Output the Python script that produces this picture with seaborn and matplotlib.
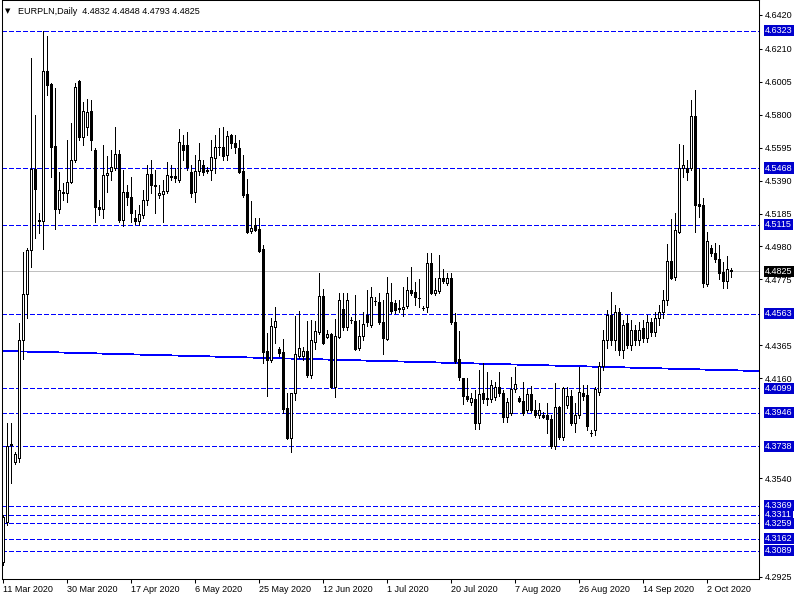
import matplotlib
matplotlib.use("Agg")
import matplotlib.pyplot as plt
import matplotlib.transforms as mtransforms
import numpy as np
import seaborn as sns

# --- DATI (EURPLN daily) ---
opens = [
    4.3017, 4.3266, 4.3745, 4.3639, 4.3664, 4.4398, 4.4684, 4.4958, 4.5462, 4.5145,
    4.5138, 4.6071, 4.5991, 4.5605, 4.5213, 4.5313, 4.5313, 4.5381, 4.5518, 4.6009,
    4.5661, 4.5723, 4.5823, 4.5580, 4.5226, 4.5213, 4.5425, 4.5449, 4.5468, 4.5555,
    4.5145, 4.5319, 4.5288, 4.5157, 4.5138, 4.5176, 4.5269, 4.5431, 4.5362, 4.5300,
    4.5306, 4.5325, 4.5418, 4.5418, 4.5393, 4.5611, 4.5611, 4.5443, 4.5319, 4.5449,
    4.5487, 4.5456, 4.5456, 4.5530, 4.5599, 4.5599, 4.5549, 4.5673, 4.5624, 4.5592,
    4.5449, 4.5306, 4.5076, 4.5113, 4.5089, 4.4964, 4.4330, 4.4274, 4.4479, 4.4342,
    4.4324, 4.3975, 4.3789, 4.4069, 4.4299, 4.4299, 4.4330, 4.4181, 4.4386, 4.4448,
    4.4672, 4.4417, 4.4436, 4.4106, 4.4417, 4.4591, 4.4479, 4.4523, 4.4516, 4.4348,
    4.4423, 4.4554, 4.4492, 4.4641, 4.4635, 4.4510, 4.4404, 4.4635, 4.4628, 4.4597,
    4.4591, 4.4610, 4.4709, 4.4697, 4.4660, 4.4597, 4.4603, 4.4877, 4.4691, 4.4703,
    4.4784, 4.4753, 4.4784, 4.4510, 4.4280, 4.4162, 4.4050, 4.4013, 4.4031, 4.3882,
    4.4069, 4.4037, 4.4031, 4.4044, 4.4106, 4.4069, 4.3919, 4.3944, 4.4093, 4.4037,
    4.4019, 4.3963, 4.4062, 4.3963, 4.3932, 4.3932, 4.3932, 4.3907, 4.3739, 4.3981,
    4.3795, 4.3994, 4.4050, 4.3882, 4.3932, 4.4069, 4.4056, 4.3820, 4.3838, 4.4075,
    4.4236, 4.4398, 4.4554, 4.4398, 4.4572, 4.4336, 4.4504, 4.4367, 4.4460, 4.4398,
    4.4473, 4.4411, 4.4510, 4.4448, 4.4535, 4.4572, 4.4647, 4.4890, 4.4790, 4.5070,
    4.5468, 4.5468, 4.5468, 4.5791, 4.5244, 4.5238, 4.4747, 4.4970, 4.4939, 4.4902,
    4.4821, 4.4765, 4.4832,
]
highs = [
    4.3310, 4.3882, 4.3882, 4.3702, 4.4504, 4.4946, 4.4970, 4.6152, 4.5798, 4.5188,
    4.6320, 4.6289, 4.5995, 4.5966, 4.5443, 4.5375, 4.5642, 4.5748, 4.5997, 4.6015,
    4.5879, 4.5897, 4.5891, 4.5592, 4.5269, 4.5611, 4.5543, 4.5580, 4.5723, 4.5580,
    4.5456, 4.5362, 4.5412, 4.5207, 4.5238, 4.5331, 4.5487, 4.5518, 4.5456, 4.5362,
    4.5393, 4.5505, 4.5487, 4.5468, 4.5711, 4.5673, 4.5692, 4.5487, 4.5549, 4.5624,
    4.5518, 4.5474, 4.5642, 4.5673, 4.5717, 4.5723, 4.5698, 4.5680, 4.5673, 4.5642,
    4.5549, 4.5400, 4.5263, 4.5157, 4.5157, 4.4989, 4.4442, 4.4535, 4.4603, 4.4355,
    4.4404, 4.4069, 4.4069, 4.4548, 4.4579, 4.4355, 4.4516, 4.4523, 4.4516, 4.4815,
    4.4715, 4.4460, 4.4440, 4.4529, 4.4691, 4.4691, 4.4691, 4.4541, 4.4678, 4.4523,
    4.4572, 4.4709, 4.4728, 4.4666, 4.4691, 4.4647, 4.4790, 4.4753, 4.4647, 4.4647,
    4.4728, 4.4790, 4.4852, 4.4759, 4.4778, 4.4610, 4.4939, 4.4939, 4.4784, 4.4927,
    4.4840, 4.4815, 4.4815, 4.4566, 4.4454, 4.4165, 4.4162, 4.4069, 4.4087, 4.4212,
    4.4255, 4.4199, 4.4149, 4.4137, 4.4199, 4.4087, 4.4037, 4.4168, 4.4230, 4.4050,
    4.4137, 4.4093, 4.4112, 4.4025, 4.4006, 4.3950, 4.4006, 4.3932, 4.4131, 4.3985,
    4.4106, 4.4106, 4.4087, 4.4006, 4.4230, 4.4118, 4.4118, 4.3838, 4.4106, 4.4261,
    4.4460, 4.4585, 4.4697, 4.4616, 4.4597, 4.4523, 4.4554, 4.4523, 4.4492, 4.4510,
    4.4523, 4.4554, 4.4535, 4.4572, 4.4616, 4.4709, 4.4995, 4.5151, 4.5188, 4.5617,
    4.5611, 4.5518, 4.5891, 4.5953, 4.5468, 4.5281, 4.5070, 4.4989, 4.5002, 4.4989,
    4.4883, 4.4921, 4.4848,
]
lows = [
    4.2999, 4.3248, 4.3509, 4.3627, 4.3639, 4.4280, 4.4535, 4.4852, 4.5033, 4.5064,
    4.4964, 4.5922, 4.5412, 4.5089, 4.5188, 4.5269, 4.5257, 4.5375, 4.5505, 4.5642,
    4.5611, 4.5673, 4.5580, 4.5132, 4.5176, 4.5157, 4.5319, 4.5393, 4.5456, 4.5132,
    4.5107, 4.5238, 4.5132, 4.5120, 4.5113, 4.5157, 4.5238, 4.5313, 4.5188, 4.5281,
    4.5132, 4.5313, 4.5393, 4.5381, 4.5381, 4.5518, 4.5456, 4.5288, 4.5257, 4.5425,
    4.5425, 4.5437, 4.5393, 4.5437, 4.5549, 4.5518, 4.5518, 4.5592, 4.5561, 4.5437,
    4.5288, 4.5064, 4.5064, 4.5076, 4.4946, 4.4255, 4.4050, 4.4261, 4.4380, 4.4299,
    4.3944, 4.3782, 4.3702, 4.4025, 4.4286, 4.4274, 4.4168, 4.4162, 4.4342, 4.4436,
    4.4375, 4.4411, 4.4100, 4.4044, 4.4411, 4.4460, 4.4460, 4.4504, 4.4336, 4.4336,
    4.4398, 4.4485, 4.4479, 4.4616, 4.4498, 4.4311, 4.4398, 4.4566, 4.4566, 4.4572,
    4.4548, 4.4597, 4.4678, 4.4616, 4.4603, 4.4585, 4.4572, 4.4684, 4.4678, 4.4691,
    4.4753, 4.4740, 4.4498, 4.4255, 4.4149, 4.4000, 4.4019, 4.3994, 4.3845, 4.3845,
    4.4006, 4.3994, 4.4013, 4.4025, 4.4050, 4.3888, 4.3888, 4.3932, 4.4075, 4.4013,
    4.3932, 4.3950, 4.3950, 4.3919, 4.3913, 4.3913, 4.3820, 4.3727, 4.3720, 4.3782,
    4.3776, 4.3975, 4.3870, 4.3826, 4.3913, 4.4025, 4.3838, 4.3801, 4.3807, 4.4056,
    4.4212, 4.4348, 4.4367, 4.4336, 4.4305, 4.4286, 4.4348, 4.4336, 4.4367, 4.4367,
    4.4386, 4.4386, 4.4423, 4.4423, 4.4492, 4.4535, 4.4616, 4.4778, 4.4771, 4.5064,
    4.5412, 4.5393, 4.5456, 4.5070, 4.5163, 4.4728, 4.4734, 4.4921, 4.4883, 4.4778,
    4.4722, 4.4722, 4.4793,
]
closes = [
    4.3297, 4.3739, 4.3751, 4.3689, 4.4398, 4.4684, 4.4958, 4.5462, 4.5337, 4.5138,
    4.6071, 4.5984, 4.5599, 4.5213, 4.5331, 4.5319, 4.5381, 4.5518, 4.5972, 4.5661,
    4.5823, 4.5816, 4.5642, 4.5226, 4.5213, 4.5425, 4.5437, 4.5474, 4.5555, 4.5145,
    4.5319, 4.5288, 4.5188, 4.5138, 4.5182, 4.5269, 4.5431, 4.5362, 4.5356, 4.5313,
    4.5325, 4.5425, 4.5412, 4.5406, 4.5630, 4.5580, 4.5474, 4.5313, 4.5449, 4.5518,
    4.5443, 4.5449, 4.5536, 4.5599, 4.5596, 4.5543, 4.5667, 4.5624, 4.5599, 4.5443,
    4.5300, 4.5070, 4.5095, 4.5082, 4.4952, 4.4324, 4.4274, 4.4485, 4.4516, 4.4317,
    4.3969, 4.3789, 4.4069, 4.4311, 4.4348, 4.4330, 4.4181, 4.4398, 4.4454, 4.4672,
    4.4380, 4.4436, 4.4106, 4.4423, 4.4647, 4.4479, 4.4647, 4.4520, 4.4342, 4.4423,
    4.4498, 4.4510, 4.4666, 4.4638, 4.4510, 4.4411, 4.4691, 4.4579, 4.4585, 4.4594,
    4.4603, 4.4709, 4.4691, 4.4666, 4.4657, 4.4600, 4.4877, 4.4691, 4.4709, 4.4784,
    4.4765, 4.4784, 4.4510, 4.4268, 4.4168, 4.4050, 4.4031, 4.4037, 4.3882, 4.4062,
    4.4031, 4.4034, 4.4118, 4.4106, 4.4069, 4.3919, 4.4013, 4.4093, 4.4125, 4.4019,
    4.3944, 4.4062, 4.3963, 4.3932, 4.3963, 4.3919, 4.3907, 4.3739, 4.3981, 4.3795,
    4.4100, 4.4050, 4.3882, 4.3932, 4.4075, 4.4050, 4.3863, 4.3817, 4.4093, 4.4236,
    4.4398, 4.4554, 4.4398, 4.4572, 4.4336, 4.4492, 4.4367, 4.4460, 4.4398, 4.4460,
    4.4411, 4.4510, 4.4448, 4.4535, 4.4572, 4.4647, 4.4890, 4.4784, 4.5082, 4.5468,
    4.5487, 4.5443, 4.5791, 4.5238, 4.5232, 4.4753, 4.5014, 4.4939, 4.4902, 4.4815,
    4.4765, 4.4840, 4.4825,
]

# livelli orizzontali (linee tratteggiate blu)
levels = [4.6323, 4.5468, 4.5115, 4.4563, 4.4099, 4.3946, 4.3738,
          4.3369, 4.3311, 4.3259, 4.3162, 4.3089]
bid_price = 4.4825

# linea di tendenza (due punti di ancoraggio)
trend_x = [-1, 190]
trend_y = [4.4331, 4.4205]

ytick_vals = [4.6420, 4.6210, 4.6005, 4.5800, 4.5595, 4.5390, 4.5185,
              4.4980, 4.4775, 4.4365, 4.4160, 4.3540, 4.2925]
date_labels = ["11 Mar 2020", "30 Mar 2020", "17 Apr 2020", "6 May 2020",
               "25 May 2020", "12 Jun 2020", "1 Jul 2020", "20 Jul 2020",
               "7 Aug 2020", "26 Aug 2020", "14 Sep 2020", "2 Oct 2020"]
bars_per_label = 16

title_text = "EURPLN,Daily  4.4832 4.4848 4.4793 4.4825"

# --- GRAFICO ---
sns.set_style("white")
plt.rcParams['font.family'] = ['Liberation Sans', 'DejaVu Sans']

o = np.array(opens)
h = np.array(highs)
l = np.array(lows)
c = np.array(closes)
x = np.arange(len(c))
up = c >= o

fig = plt.figure(figsize=(8, 6), dpi=100)
ax = fig.add_axes([0.0025, 0.035, 0.94625, 0.965])

LW = 0.6  # ~1 pixel, senza antialias
BLUE = '#0000cd'
for lv in levels:
    ax.axhline(lv, color='#0000ff', linewidth=LW, linestyle=(0, (5, 3.5)),
               antialiased=False, zorder=1)
ax.axhline(bid_price, color='#c0c0c0', linewidth=LW, antialiased=False, zorder=1)
sns.lineplot(x=trend_x, y=trend_y, color='#0000ff', linewidth=LW, ax=ax,
             legend=False, antialiased=False, zorder=2)

# candele (stile MetaTrader)
ax.vlines(x, l, h, color='black', linewidth=LW, antialiased=False, zorder=3)
ax.bar(x[up], (c - o)[up], bottom=o[up], width=0.5, facecolor='white',
       edgecolor='black', linewidth=LW, antialiased=False, zorder=4)
ax.bar(x[~up], (c - o)[~up], bottom=o[~up], width=0.5, facecolor='black',
       edgecolor='black', linewidth=LW, antialiased=False, zorder=4)

ax.set_xlim(-0.25, 189)
ax.set_ylim(4.2912, 4.6513)

for s in ax.spines.values():
    s.set_color('black')
    s.set_linewidth(0.75)

# asse y a destra
ax.yaxis.tick_right()
ax.set_yticks(ytick_vals)
ax.set_yticklabels([f"{v:.4f}" for v in ytick_vals])
ax.tick_params(axis='y', right=True, left=False, labelright=True, labelleft=False,
               length=2.5, width=0.75, pad=2, labelsize=6.5, colors='black')

# asse x
ax.set_xticks([i * bars_per_label for i in range(len(date_labels))])
ax.set_xticklabels(date_labels)
ax.tick_params(axis='x', bottom=True, length=3, width=0.75, pad=1.5,
               labelsize=6.5, colors='black')
plt.setp(ax.get_xticklabels(), ha='left')

# etichette dei livelli
trans = mtransforms.blended_transform_factory(ax.transAxes, ax.transData)
for lv in levels:
    ax.text(1.0079, lv, f"{lv:.4f}", transform=trans, ha='left', va='center',
            fontsize=6.5, color='white', clip_on=False, zorder=10,
            bbox=dict(boxstyle='square,pad=0.12', fc=BLUE, ec='none'))
ax.text(1.0079, bid_price, f"{bid_price:.4f}", transform=trans, ha='left',
        va='center', fontsize=6.5, color='white', clip_on=False, zorder=11,
        bbox=dict(boxstyle='square,pad=0.12', fc='black', ec='none'))

# titolo in alto a sinistra
fig.text(5 / 800, 1 - 11 / 600, "\u25bc", fontsize=5, family=['DejaVu Sans'],
         va='center', ha='left', color='black')
fig.text(18 / 800, 1 - 11 / 600, title_text, fontsize=6.5, va='center',
         ha='left', color='black')

fig.savefig("out.png", dpi=100)
plt.close(fig)
